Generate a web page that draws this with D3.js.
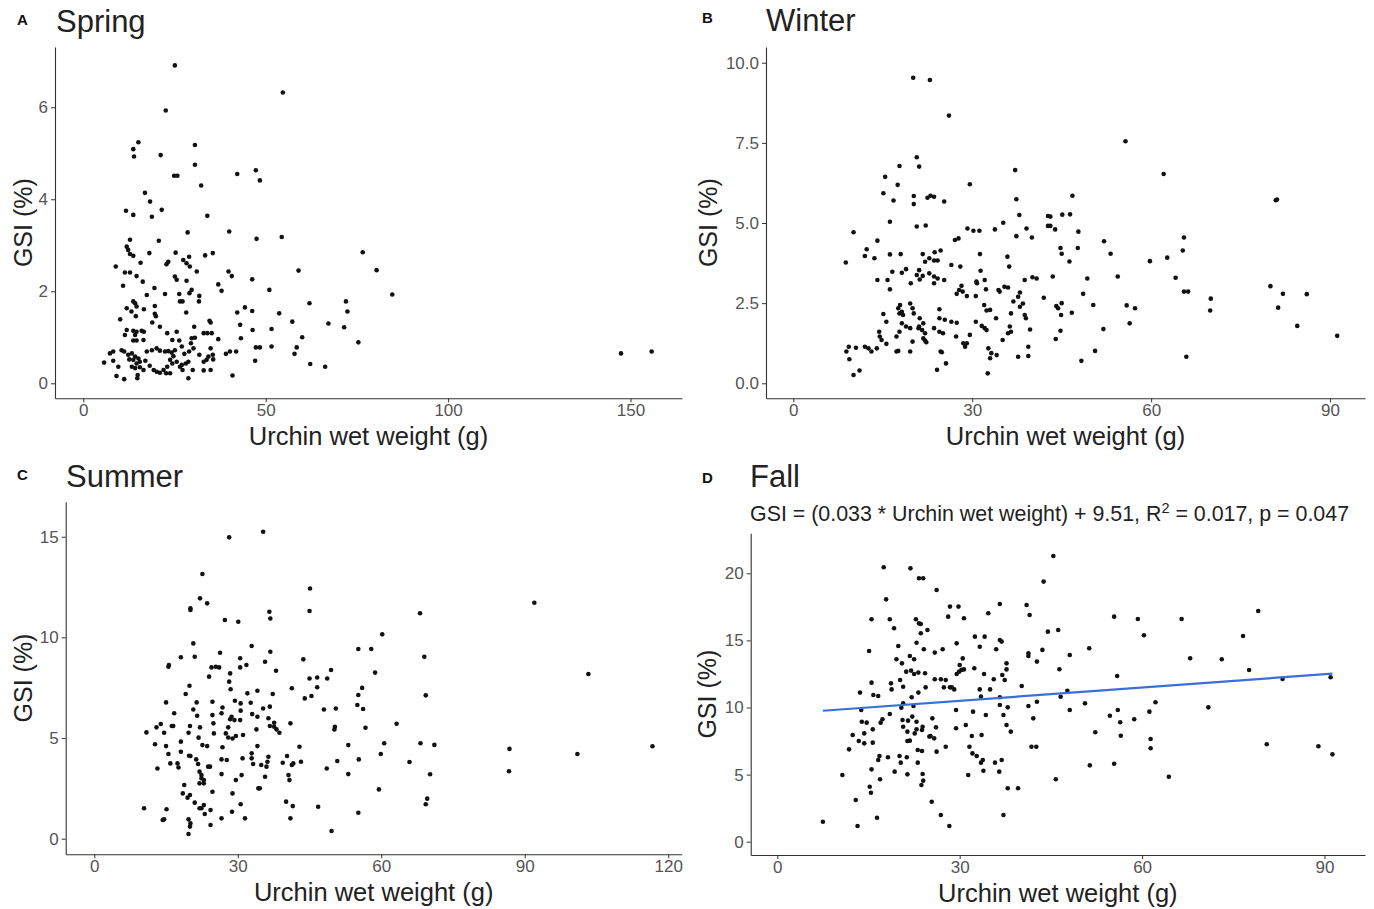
<!DOCTYPE html>
<html>
<head>
<meta charset="utf-8">
<script src="https://cdn.jsdelivr.net/npm/d3@7"></script>
<style>
  body { margin: 0; background: #fff; }
  svg text { font-family: "Liberation Sans", Arial, sans-serif; }
</style>
</head>
<body>
<svg id="chart" width="1374" height="909"></svg>
<script>
// ---- data (wet weight in g, GSI in %) ----
const springWeight = [25.1,54.7,22.6,15.1,13.7,13.9,21.2,30.6,30.6,24.9,25.8,32.3,42.2,47.3,48.4,16.9,18.3,11.7,13.7,21.5,18.8,34.0,28.6,40.0,47.5,54.4,12.8,11.9,12.3,20.7,12.8,13.7,15.7,18.1,23.3,22.8,25.3,27.4,29.0,33.4,35.5,28.3,29.2,31.1,8.9,11.4,12.8,14.6,16.3,19.5,10.9,25.1,25.6,28.3,39.8,40.7,46.3,59.0,37.0,37.9,51.0,22.4,26.3,29.7,29.1,31.8,17.4,13.7,14.2,11.9,14.6,16.6,13.2,19.6,19.6,26.5,27.2,28.2,31.7,14.4,19.9,10.1,18.9,21.0,30.4,34.6,34.9,42.2,44.3,46.3,53.7,62.0,72.0,72.4,57.3,67.2,71.5,43.0,11.9,13.7,14.6,16.0,16.6,14.2,11.4,16.5,13.7,14.6,23.0,25.6,24.4,26.3,29.7,30.6,33.0,34.0,35.2,37.0,43.2,46.4,51.6,60.0,75.4,27.0,29.5,30.2,34.9,47.3,48.4,51.6,58.5,7.3,8.2,10.5,11.2,12.3,13.3,14.2,15.1,17.4,18.8,20.1,21.0,22.4,23.3,24.2,24.7,25.1,27.7,29.0,31.8,34.3,35.5,39.1,40.2,41.9,57.9,5.7,8.2,9.6,12.6,13.7,14.6,15.5,17.0,13.3,14.2,15.5,16.5,18.2,19.3,20.1,21.0,22.0,23.0,23.8,24.4,25.6,22.7,23.8,27.0,26.5,28.1,28.8,27.2,30.0,33.0,33.0,34.9,33.8,35.6,9.1,11.2,14.8,14.9,28.8,40.9,47.1,62.2,66.3,76.6,80.4,84.7,147.4,155.8];
const springGSI = [6.91,6.32,5.93,5.24,5.09,4.93,4.96,5.18,4.75,4.51,4.51,4.30,4.55,4.63,4.41,4.14,3.95,3.75,3.66,3.77,3.62,3.64,3.28,3.30,3.14,3.18,3.12,2.97,2.90,3.10,2.81,2.77,2.62,2.83,2.64,2.59,2.84,2.68,2.75,2.78,2.83,2.61,2.54,2.43,2.54,2.41,2.41,2.33,2.21,2.07,2.12,2.32,2.25,2.23,2.43,2.33,2.26,2.45,2.15,2.01,2.03,1.94,1.94,2.03,1.96,1.90,1.92,1.78,1.74,1.63,1.67,1.61,1.56,1.68,1.51,1.78,1.78,1.54,1.78,1.46,1.46,1.39,1.32,1.23,1.23,1.36,1.32,1.54,1.65,1.57,1.52,1.74,1.78,1.56,1.34,1.30,1.22,1.27,1.16,1.14,1.12,1.14,1.12,1.05,1.05,0.94,0.93,0.93,1.09,1.12,0.94,0.93,0.98,0.99,1.09,1.09,1.09,0.96,0.98,1.16,1.18,1.00,0.89,0.80,0.87,0.76,0.76,0.78,0.78,0.80,0.78,0.65,0.69,0.72,0.69,0.62,0.65,0.58,0.54,0.69,0.72,0.76,0.71,0.69,0.70,0.67,0.59,0.72,0.64,0.69,0.62,0.58,0.62,0.64,0.69,0.69,0.64,0.45,0.49,0.36,0.52,0.51,0.43,0.47,0.49,0.36,0.33,0.35,0.29,0.38,0.29,0.25,0.23,0.29,0.36,0.51,0.43,0.47,0.22,0.22,0.40,0.36,0.43,0.47,0.29,0.29,0.47,0.28,0.29,0.51,0.52,0.16,0.09,0.11,0.18,0.11,0.17,0.49,0.42,0.36,2.85,2.46,1.93,0.65,0.69];

const winterWeight = [8.8,10.1,8.9,9.3,9.4,10.5,10.1,11.1,12.0,12.6,13.1,14.0,12.3,12.0,13.6,14.1,15.4,15.1,17.5,17.8,16.8,16.2,16.2,18.0,14.1,15.8,16.2,16.6,18.2,18.9,19.7,15.1,15.6,14.4,14.5,14.8,15.6,17.3,17.6,17.3,19.6,17.6,17.9,17.8,18.2,18.4,18.2,19.6,20.0,20.2,20.7,21.1,20.2,20.2,20.7,22.2,22.5,23.0,23.6,25.3,20.1,22.9,26.1,21.7,22.1,22.8,23.7,24.7,23.6,24.2,21.1,20.7,21.2,21.7,22.8,23.6,24.2,25.3,23.6,21.2,21.8,21.0,21.6,22.1,21.8,22.1,22.3,21.1,18.9,19.6,17.8,20.0,23.6,24.5,24.5,24.5,25.1,25.4,26.5,27.4,27.3,24.7,24.9,25.6,24.1,27.1,27.7,26.5,28.0,27.4,27.8,28.2,28.4,29.1,30.6,28.5,28.8,29.1,29.6,29.6,29.2,30.2,31.2,31.3,30.7,30.8,31.4,30.6,31.6,32.1,32.1,32.3,32.0,32.4,33.0,32.4,32.7,33.0,33.2,34.1,32.6,33.8,35.2,34.4,34.6,35.4,36.0,34.0,35.1,36.0,36.3,36.5,35.9,36.2,36.5,37.2,37.4,37.9,37.4,39.1,40.0,36.9,37.7,38.0,38.5,38.0,38.8,38.8,39.0,39.7,37.7,39.4,39.4,40.1,40.8,42.0,42.7,42.7,55.7,62.1,46.8,81.1,80.9,43.1,45.1,46.4,43.1,43.9,47.8,44.8,47.7,45.0,46.3,52.1,53.2,65.5,65.3,59.8,62.7,43.5,49.3,54.4,64.1,65.5,66.2,44.1,44.4,45.0,44.9,46.7,48.6,50.3,55.9,57.3,56.4,70.0,69.9,80.0,82.1,86.1,81.3,84.5,91.2,44.8,44.0,52.0,50.6,48.3,65.9];
const winterGSI = [3.77,4.71,0.99,1.14,0.75,1.11,0.26,0.40,1.14,1.09,0.99,1.09,4.18,3.97,3.90,4.45,6.44,5.93,6.19,6.78,5.70,5.04,4.02,4.03,3.22,3.22,2.93,3.48,3.45,3.56,3.12,2.16,1.92,1.61,1.46,1.35,1.23,1.46,1.01,0.99,0.99,2.34,2.44,2.18,2.23,2.13,1.87,2.49,2.34,2.18,7.05,6.76,5.84,5.59,4.89,4.92,5.79,5.85,5.82,5.67,9.53,9.46,8.35,4.03,3.79,3.90,4.09,4.14,3.83,3.83,3.53,3.38,3.24,3.35,3.43,3.33,3.27,3.22,3.12,2.03,1.87,1.72,1.66,1.56,1.40,1.33,1.28,1.77,1.77,1.72,1.61,1.30,1.72,2.03,2.31,1.61,1.56,1.98,1.92,1.89,1.46,0.99,0.97,0.62,0.42,4.47,4.52,3.69,3.64,2.79,2.91,3.04,2.86,2.72,2.72,1.25,1.14,1.25,1.51,6.21,4.83,4.76,4.76,4.03,3.17,3.12,3.51,1.92,1.79,1.72,3.22,2.93,2.44,2.27,2.29,1.66,1.09,0.78,0.94,0.88,0.31,4.80,5.01,2.91,2.86,3.01,2.99,2.03,1.35,1.56,1.77,1.61,3.95,3.64,2.18,6.65,5.74,5.25,4.59,4.83,4.55,2.55,2.70,2.83,2.49,2.39,3.22,2.13,2.03,1.68,0.83,1.14,0.85,3.31,3.27,2.67,5.22,4.91,7.55,6.53,5.85,5.73,5.71,5.20,5.26,5.27,4.91,4.80,4.73,4.22,4.22,4.04,3.80,4.43,4.04,4.55,4.14,3.81,3.92,3.33,3.27,3.33,3.29,2.86,2.86,2.41,2.34,2.50,2.13,2.20,2.79,2.44,2.43,2.34,1.87,2.64,2.27,3.03,2.79,2.78,2.36,1.79,1.48,1.64,1.38,1.69,1.01,0.70,0.83];

const summerWeight = [10.4,10.9,12.7,13.0,13.2,13.9,14.6,15.0,15.5,15.0,15.1,14.3,14.6,15.5,15.6,15.9,16.2,16.5,16.7,17.4,17.6,18.1,18.1,18.1,18.5,18.8,19.1,19.5,19.7,19.9,20.0,19.8,20.1,20.0,20.1,20.1,20.7,21.0,20.7,21.4,21.5,21.8,22.1,21.3,21.7,22.0,22.4,22.0,22.4,22.9,22.9,21.0,22.0,22.4,22.9,23.1,19.7,20.1,20.0,19.7,22.1,22.6,23.6,22.6,23.6,23.8,24.2,24.3,24.3,24.7,24.0,24.5,25.4,24.7,24.7,24.9,25.0,26.3,26.1,26.6,26.8,26.8,26.6,26.6,26.6,27.3,27.7,27.5,28.0,28.0,28.2,28.2,28.4,28.5,28.4,28.7,28.9,28.9,28.8,29.4,29.3,29.6,29.6,30.1,30.5,30.5,30.6,30.5,30.6,30.8,30.6,31.1,31.0,31.5,31.8,32.0,32.7,32.9,33.0,32.9,32.9,33.2,34.1,34.1,33.9,34.1,34.3,34.6,34.9,35.3,35.3,35.7,36.0,35.7,36.4,36.2,36.8,36.7,36.4,36.7,36.6,36.8,37.3,37.6,37.6,38.0,38.1,38.7,39.4,40.1,40.3,40.6,40.8,41.0,41.3,41.3,41.5,41.0,41.6,42.9,43.2,43.7,44.0,45.1,45.0,45.0,45.4,46.6,46.6,46.8,48.0,48.7,48.6,49.5,49.6,50.2,50.3,50.5,50.8,53.1,53.1,55.2,55.2,55.0,55.3,55.2,92.0,68.1,60.2,57.9,69.0,58.7,103.3,56.0,69.3,56.2,56.7,63.2,60.6,68.2,71.1,86.8,116.7,59.9,65.9,101.0,70.2,86.7,59.5,69.6,69.3];
const summerGSI = [1.51,5.28,4.69,5.53,3.49,5.70,5.26,4.60,4.21,6.77,1.46,0.93,0.96,8.54,8.63,3.74,5.60,5.60,6.23,3.74,3.54,9.01,4.82,4.32,2.25,2.67,7.19,2.04,5.26,7.60,5.60,4.12,4.11,2.17,11.44,11.36,9.70,9.04,6.42,6.77,6.11,5.02,5.53,3.94,3.71,3.33,3.16,2.75,3.00,2.91,2.75,1.79,1.51,1.51,1.67,1.23,0.96,0.76,0.60,0.23,11.94,13.15,11.69,4.65,4.60,3.58,3.58,1.42,0.68,2.33,8.05,8.51,8.54,6.80,6.14,5.73,5.23,9.24,8.51,6.23,6.52,4.54,3.21,3.94,1.01,10.86,3.91,5.23,5.03,5.53,14.97,7.80,8.21,7.42,5.93,6.06,4.98,2.25,1.34,6.85,5.89,2.91,5.10,10.78,8.96,8.51,6.72,5.89,6.36,3.16,1.71,5.15,3.99,1.01,8.63,7.22,6.75,9.57,6.19,4.24,3.99,3.71,6.06,4.60,5.43,7.35,2.50,2.50,3.66,15.25,6.47,8.79,3.58,3.08,4.07,3.82,9.29,5.60,5.98,6.56,11.27,10.94,7.19,5.76,5.56,8.34,5.43,5.26,3.77,1.84,4.11,3.16,2.91,5.73,7.47,3.66,1.62,1.01,3.74,4.57,3.82,8.91,6.97,12.43,11.31,7.96,7.09,8.01,7.52,1.59,6.42,7.96,3.49,8.38,0.38,5.43,5.56,6.47,3.86,4.65,3.21,9.42,7.14,6.64,3.94,1.29,11.72,11.20,10.15,9.42,9.04,8.25,8.18,7.49,7.12,6.44,5.51,5.71,4.74,4.74,4.66,4.46,4.59,4.21,3.81,4.21,3.20,3.35,2.45,1.99,1.71];

const fallWeight = [7.5,10.7,11.8,12.4,12.9,13.2,13.4,13.6,13.8,13.9,14.3,14.3,14.7,15.1,15.2,15.4,15.5,15.5,15.5,15.7,15.7,15.8,16.4,16.6,16.6,16.8,16.9,17.0,17.3,17.5,17.9,18.2,18.5,18.5,18.7,18.8,19.2,19.3,19.6,19.9,20.1,20.2,20.3,20.4,20.5,20.6,20.7,20.7,20.7,21.2,21.3,21.4,21.4,21.4,21.5,21.8,21.8,21.9,22.0,22.1,22.2,22.4,22.5,22.5,22.6,22.8,22.9,22.9,22.9,23.1,23.1,23.2,23.2,23.3,24.0,23.3,23.6,23.6,23.8,23.8,23.7,23.9,24.0,23.9,24.1,24.3,24.4,24.7,25.0,25.2,25.5,25.8,25.9,26.1,26.2,26.2,25.9,25.4,26.9,27.2,26.9,27.7,27.4,27.7,28.1,28.4,28.3,28.4,28.7,29.1,29.5,29.5,29.8,29.4,29.4,29.9,30.0,30.3,30.5,30.7,30.7,31.0,31.4,31.6,32.0,32.2,32.4,32.1,32.5,32.8,33.3,33.3,33.5,33.5,33.6,33.8,33.9,34.0,34.1,34.3,34.7,35.0,35.6,35.8,36.0,36.5,36.6,36.6,36.6,36.6,36.9,36.9,37.0,37.2,37.4,37.2,37.7,37.7,37.7,37.9,37.9,38.4,39.6,40.2,41.0,41.5,41.3,41.3,41.3,41.8,42.6,42.1,42.7,42.7,43.8,43.6,44.5,45.4,46.2,48.1,46.4,51.3,55.4,59.3,60.3,66.5,67.9,73.1,76.6,79.1,77.6,83.1,91.0,55.9,46.6,47.7,48.1,50.6,54.7,56.0,56.4,58.7,61.2,62.2,70.9,52.3,56.5,61.4,61.4,80.5,89.0,91.3,51.4,55.4,64.4,45.8];
const fallGSI = [1.49,4.97,6.88,7.95,3.11,1.17,7.50,11.11,9.81,8.94,8.07,7.33,8.87,14.21,4.10,3.65,11.85,5.39,16.57,8.37,7.38,10.93,1.79,10.86,6.09,6.39,4.65,8.87,9.12,20.45,18.06,6.29,9.52,16.57,11.80,11.35,15.90,5.22,13.59,14.58,6.39,12.05,5.89,9.99,13.29,9.07,10.31,11.55,8.57,12.67,6.29,5.02,7.50,8.20,9.02,7.53,13.84,20.37,12.75,10.76,9.32,10.11,13.59,12.50,8.07,16.57,14.83,8.94,8.37,6.83,5.89,12.60,11.11,19.63,19.63,16.27,16.22,15.53,6.76,8.32,4.22,5.04,4.55,8.57,14.34,12.55,11.50,15.78,7.83,7.88,9.19,7.70,14.09,8.52,6.71,18.76,12.10,2.98,1.99,14.34,12.10,12.05,11.50,7.08,16.77,17.52,1.17,11.50,11.50,11.35,12.50,14.78,17.52,9.81,8.45,12.67,13.17,12.80,13.66,12.84,16.65,8.70,4.97,7.08,7.88,9.69,12.92,6.58,15.28,6.39,14.53,11.35,10.81,5.89,7.95,6.09,5.29,12.50,15.28,9.44,17.02,11.35,12.10,5.89,14.34,5.22,15.03,10.76,10.19,17.71,14.91,6.09,12.42,1.99,12.05,9.44,12.84,13.29,8.70,3.98,10.01,8.20,3.98,11.60,17.64,16.89,14.04,13.84,10.11,7.08,7.08,9.19,13.42,10.43,19.38,14.29,15.65,21.29,15.78,13.91,12.85,14.41,16.77,16.59,15.38,16.59,13.67,13.60,15.33,17.19,12.79,12.12,12.25,12.35,10.80,11.25,9.81,10.31,9.39,9.81,8.90,9.12,9.69,10.39,10.01,8.15,7.90,7.65,6.96,7.26,7.11,6.51,5.69,5.81,4.84,4.65];

// fitted line reported for fall
const fallSlope = 0.033;
const fallIntercept = 9.51;

// tick labels
const springXTicks = [0, 50, 100, 150];
const springYTicks = [0, 2, 4, 6];
const winterXTicks = [0, 30, 60, 90];
const winterYTicks = [0, 2.5, 5, 7.5, 10];
const summerXTicks = [0, 30, 60, 90, 120];
const summerYTicks = [0, 5, 10, 15];
const fallXTicks = [0, 30, 60, 90];
const fallYTicks = [0, 5, 10, 15, 20];

const svg = d3.select("#chart");

const panels = [
  { tag: "A", title: "Spring", xs: springWeight, ys: springGSI, xTicks: springXTicks, yTicks: springYTicks, yFmt: d3.format("d"),
    xDom: [-7.76, 164.12], yDom: [-0.326, 7.31], left: 55, right: 682, top: 47, bottom: 398.3,
    tagX: 17, tagY: 25, titleX: 56, titleY: 32, yTitleX: 32 },
  { tag: "B", title: "Winter", xs: winterWeight, ys: winterGSI, xTicks: winterXTicks, yTicks: winterYTicks, yFmt: d3.format(".1f"),
    xDom: [-4.58, 95.86], yDom: [-0.468, 10.49], left: 766, right: 1365, top: 47, bottom: 398.3,
    tagX: 702, tagY: 23, titleX: 766, titleY: 31, yTitleX: 717 },
  { tag: "C", title: "Summer", xs: summerWeight, ys: summerGSI, xTicks: summerXTicks, yTicks: summerYTicks, yFmt: d3.format("d"),
    xDom: [-5.98, 122.81], yDom: [-0.775, 16.74], left: 65.7, right: 681.7, top: 501.7, bottom: 854.3,
    tagX: 17, tagY: 480, titleX: 66, titleY: 487, yTitleX: 32 },
  { tag: "D", title: "Fall", xs: fallWeight, ys: fallGSI, xTicks: fallXTicks, yTicks: fallYTicks, yFmt: d3.format("d"),
    xDom: [-4.375, 96.66], yDom: [-0.991, 22.98], left: 750.7, right: 1365, top: 533.3, bottom: 855,
    tagX: 702, tagY: 483, titleX: 750, titleY: 487, yTitleX: 716, fit: true }
];

panels.forEach(p => {
  const x = d3.scaleLinear().domain(p.xDom).range([p.left, p.right]);
  const y = d3.scaleLinear().domain(p.yDom).range([p.bottom, p.top]);
  const g = svg.append("g");

  // axes
  const xAxis = g.append("g")
    .attr("transform", `translate(0,${p.bottom})`)
    .call(d3.axisBottom(x).tickValues(p.xTicks).tickSize(4).tickPadding(2).tickSizeOuter(0));
  const yAxis = g.append("g")
    .attr("transform", `translate(${p.left},0)`)
    .call(d3.axisLeft(y).tickValues(p.yTicks).tickFormat(p.yFmt).tickSize(4).tickPadding(3).tickSizeOuter(0));

  [xAxis, yAxis].forEach(a => {
    a.select(".domain").attr("stroke", "#333").attr("stroke-width", 1.1);
    a.selectAll(".tick line").attr("stroke", "#333");
    a.selectAll(".tick text").attr("fill", "#555").style("font-size", "17px");
  });

  // points
  g.append("g").selectAll("circle")
    .data(p.xs.map((v, i) => [v, p.ys[i]]))
    .enter().append("circle")
    .attr("cx", d => x(d[0]))
    .attr("cy", d => y(d[1]))
    .attr("r", 2.3)
    .attr("fill", "#111");

  if (p.fit) {
    const ext = d3.extent(p.xs);
    g.append("line")
      .attr("x1", x(ext[0])).attr("y1", y(fallSlope * ext[0] + fallIntercept))
      .attr("x2", x(ext[1])).attr("y2", y(fallSlope * ext[1] + fallIntercept))
      .attr("stroke", "#3a6fd8").attr("stroke-width", 2.2);

    const sub = g.append("text")
      .attr("x", 750).attr("y", 521)
      .attr("fill", "#222").style("font-size", "21.4px");
    sub.append("tspan").text("GSI = (0.033 * Urchin wet weight) + 9.51, R");
    sub.append("tspan").attr("dy", -8).style("font-size", "14.5px").text("2");
    sub.append("tspan").attr("dy", 8).text(" = 0.017, p = 0.047");
  }

  // labels
  g.append("text").attr("x", p.tagX).attr("y", p.tagY)
    .style("font-size", "15px").style("font-weight", "bold").attr("fill", "#111").text(p.tag);
  g.append("text").attr("x", p.titleX).attr("y", p.titleY)
    .style("font-size", "31px").attr("fill", "#222").text(p.title);
  g.append("text")
    .attr("x", (p.left + p.right) / 2).attr("y", p.bottom + 47)
    .attr("text-anchor", "middle").style("font-size", "25.5px").attr("fill", "#222")
    .text("Urchin wet weight (g)");
  g.append("text")
    .attr("transform", `translate(${p.yTitleX},${(p.top + p.bottom) / 2}) rotate(-90)`)
    .attr("text-anchor", "middle").style("font-size", "25px").attr("fill", "#222")
    .text("GSI (%)");
});
</script>
</body>
</html>
